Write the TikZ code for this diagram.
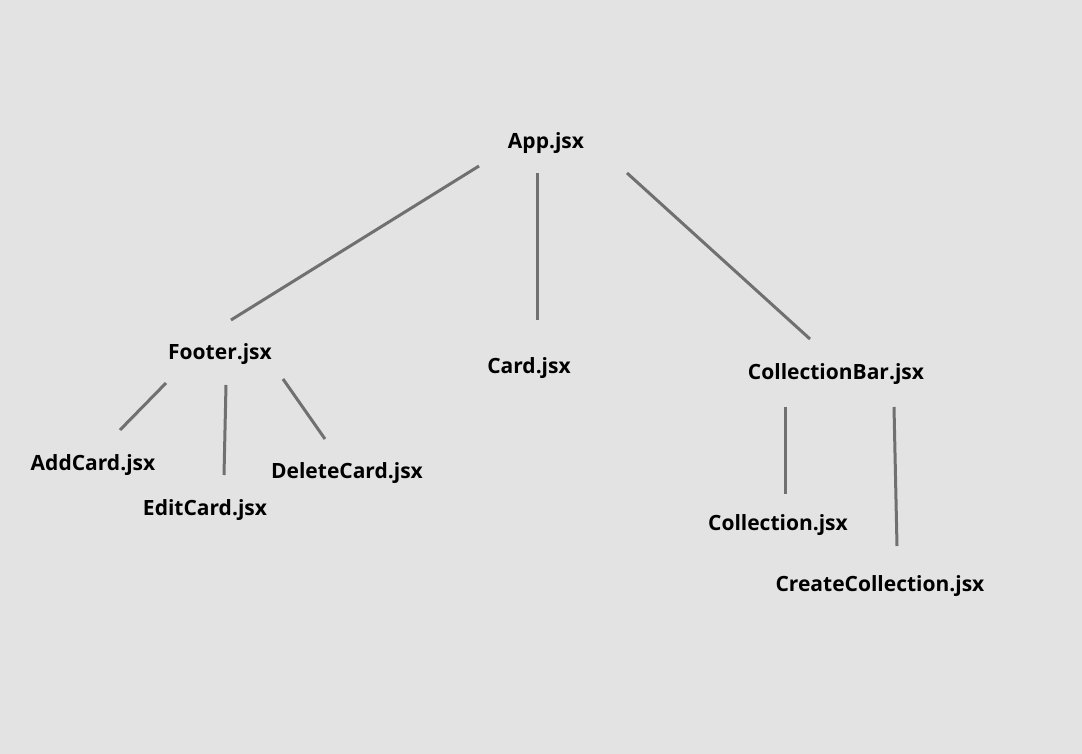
\documentclass[tikz,border=0pt]{standalone}
\usepackage{fontspec}
\setmainfont{Open Sans}
\definecolor{bg}{RGB}{227,227,227}
\definecolor{ln}{RGB}{112,112,112}
\begin{document}
\begin{tikzpicture}[x=1pt,y=-1pt,
  lbl/.style={font=\fontsize{21}{24}\selectfont\bfseries, text=black, inner sep=0pt},
  link/.style={draw=ln, line width=3pt}]
\fill[bg] (0,0) rectangle (1082,754);
\useasboundingbox (0,0) rectangle (1082,754);
\node[lbl] (app) at (546,143) {App.jsx};
\node[lbl] (footer) at (220,354) {Footer.jsx};
\node[lbl] (card) at (529,368) {Card.jsx};
\node[lbl] (cbar) at (836,374) {CollectionBar.jsx};
\node[lbl] (add) at (93,465) {AddCard.jsx};
\node[lbl] (edit) at (205,510) {EditCard.jsx};
\node[lbl] (del) at (347,473) {DeleteCard.jsx};
\node[lbl] (coll) at (778,525) {Collection.jsx};
\node[lbl] (create) at (880,586) {CreateCollection.jsx};
% connector end points
\coordinate (a1) at (479,166); \coordinate (f0) at (231,320);
\coordinate (a2) at (537,173); \coordinate (c0) at (537,320);
\coordinate (a3) at (627,173); \coordinate (b0) at (810,339);
\coordinate (f1) at (166,383); \coordinate (ad0) at (120,430);
\coordinate (f2) at (226,385); \coordinate (e0) at (224,475);
\coordinate (f3) at (283,379); \coordinate (d0) at (325,439);
\coordinate (b1) at (785,407); \coordinate (co0) at (785,494);
\coordinate (b2) at (894,407); \coordinate (cr0) at (897,546);
\draw[link] (a1) -- (f0);
\draw[link] (a2) -- (c0);
\draw[link] (a3) -- (b0);
\draw[link] (f1) -- (ad0);
\draw[link] (f2) -- (e0);
\draw[link] (f3) -- (d0);
\draw[link] (b1) -- (co0);
\draw[link] (b2) -- (cr0);
\end{tikzpicture}
\end{document}
